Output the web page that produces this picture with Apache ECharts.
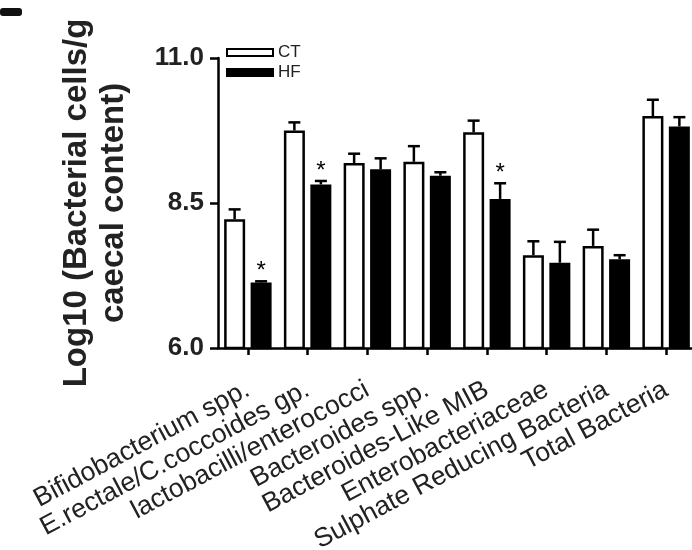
<!DOCTYPE html>
<html>
<head>
<meta charset="utf-8">
<script src="https://cdn.jsdelivr.net/npm/echarts@6/dist/echarts.min.js"></script>
<style>
  html, body { margin: 0; padding: 0; background: #fff; }
  #chart { width: 692px; height: 550px; }
</style>
</head>
<body>
<div id="chart"></div>
<script>
// groups on the x axis
var categories = [
  "Bifidobacterium spp.",
  "E.rectale/C.coccoides gp.",
  "lactobacilli/enterococci",
  "Bacteroides spp.",
  "Bacteroides-Like MIB",
  "Enterobacteriaceae",
  "Sulphate Reducing Bacteria",
  "Total Bacteria"
];
// mean values
var ctMean = [8.22, 9.75, 9.19, 9.21, 9.72, 7.60, 7.76, 10.00];
var ctErr = [0.17, 0.14, 0.16, 0.27, 0.20, 0.24, 0.28, 0.28];
var hfMean = [7.13, 8.82, 9.08, 8.97, 8.57, 7.47, 7.53, 9.82];
var hfErr = [0.02, 0.06, 0.19, 0.06, 0.27, 0.36, 0.07, 0.16];
// 1 = significant (*) for HF vs CT
var hfSig = [1, 1, 0, 0, 1, 0, 0, 0];
var yTicks = [6.0, 8.5, 11.0];

var FONT = "Liberation Sans, Arial, sans-serif";
var BAR_W = 21;
var BAR_GAP = 5.5; // px between bar centres beyond width
var OFF = (BAR_W + BAR_GAP) / 2;

function errRows(mean, err, sig) {
  return mean.map(function (m, i) {
    return [i, m, err[i], sig ? sig[i] : 0];
  });
}

function errorRender(offset) {
  return function (params, api) {
    var idx = api.value(0);
    var val = api.value(1);
    var err = api.value(2);
    var star = api.value(3);
    var top = api.coord([idx, val]);
    var hi = api.coord([idx, val + err]);
    var x = top[0] + offset;
    var st = { stroke: "#000", lineWidth: 2.5 };
    var children = [
      { type: "line", shape: { x1: x, y1: top[1], x2: x, y2: hi[1] }, style: st },
      { type: "line", shape: { x1: x - 6, y1: hi[1], x2: x + 6, y2: hi[1] }, style: st }
    ];
    if (star) {
      children.push({
        type: "text",
        x: x,
        y: hi[1] + 2,
        style: {
          text: "*",
          font: "24px " + FONT,
          fill: "#000",
          align: "center",
          verticalAlign: "bottom"
        }
      });
    }
    return { type: "group", children: children };
  };
}

var mychart = echarts.init(document.getElementById("chart"));
var option = {
  backgroundColor: "#fff",
  animation: false,
  textStyle: { fontFamily: FONT },
  grid: {
    left: 218,
    top: 58,
    bottom: 202,
    right: -4,
    containLabel: false,
    outerBoundsMode: "none"
  },
  legend: {
    data: ["CT", "HF"],
    orient: "vertical",
    left: 221,
    top: 39,
    icon: "rect",
    itemWidth: 46,
    itemHeight: 7,
    itemGap: 3,
    textStyle: { fontSize: 17, color: "#222", fontFamily: FONT }
  },
  graphic: [
    { type: "rect", left: 0, top: 8, shape: { width: 22, height: 8, r: 3 }, style: { fill: "#111" } }
  ],
  xAxis: {
    type: "category",
    data: categories,
    axisLine: { show: true, lineStyle: { color: "#000", width: 2.5 } },
    axisTick: { show: true, alignWithLabel: true, length: 7, lineStyle: { color: "#000", width: 2.5 } },
    axisLabel: {
      interval: 0,
      rotate: 28,
      margin: 40,
      fontSize: 26.5,
      color: "#222",
      fontFamily: FONT
    }
  },
  yAxis: {
    type: "value",
    min: 6,
    max: 11,
    interval: 2.5,
    name: "Log10 (Bacterial cells/g\ncaecal content)",
    nameLocation: "middle",
    nameRotate: 90,
    nameGap: 86,
    nameTextStyle: {
      fontSize: 33,
      fontWeight: "bold",
      color: "#222",
      lineHeight: 37,
      fontFamily: FONT
    },
    axisLine: { show: true, lineStyle: { color: "#000", width: 2.5 } },
    axisTick: { show: true, length: 8, lineStyle: { color: "#000", width: 2.5 } },
    axisLabel: {
      margin: 14,
      fontSize: 26,
      fontWeight: "bold",
      color: "#222",
      fontFamily: FONT,
      formatter: function (v) {
        return yTicks.indexOf(v) >= 0 ? v.toFixed(1) : "";
      }
    },
    splitLine: { show: false }
  },
  series: [
    {
      name: "CT",
      type: "bar",
      barWidth: BAR_W,
      barGap: (BAR_GAP / BAR_W * 100).toFixed(0) + "%",
      data: ctMean,
      itemStyle: { color: "#fff", borderColor: "#000", borderWidth: 2.5 }
    },
    {
      name: "HF",
      type: "bar",
      barWidth: BAR_W,
      data: hfMean,
      itemStyle: { color: "#000", borderColor: "#000", borderWidth: 2.5 }
    },
    {
      name: "CT err",
      type: "custom",
      renderItem: errorRender(-OFF),
      data: errRows(ctMean, ctErr),
      encode: { x: 0, y: 1 },
      z: 5
    },
    {
      name: "HF err",
      type: "custom",
      renderItem: errorRender(OFF),
      data: errRows(hfMean, hfErr, hfSig),
      encode: { x: 0, y: 1 },
      z: 5
    }
  ]
};
mychart.setOption(option);
mychart.resize();
</script>
</body>
</html>
